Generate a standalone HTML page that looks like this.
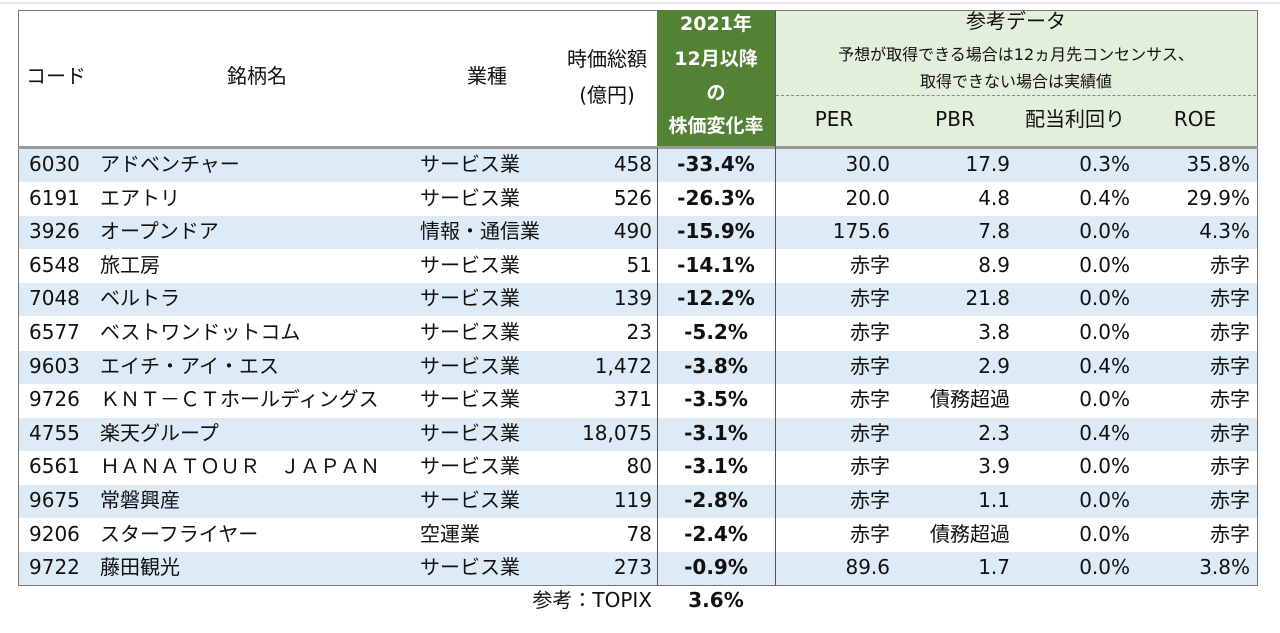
<!DOCTYPE html>
<html><head><meta charset="utf-8"><style>
*{margin:0;padding:0;box-sizing:border-box}
body{width:1280px;height:633px;background:#fff;position:relative;overflow:hidden;font-family:"DejaVu Sans","Noto Sans CJK JP",sans-serif;color:#111}
.a{position:absolute;white-space:nowrap}
.t{font-size:20px;line-height:21px}
.r{text-align:right}
.c{text-align:center}
.b{font-weight:bold}
</style></head><body>
<div class="a" style="left:0;top:2px;width:1280px;height:2px;background:#e3e3e3"></div>
<div class="a" style="left:18px;top:10px;width:1240px;height:576px;border:1px solid #777"></div>
<div class="a" style="left:657px;top:10px;width:118px;height:138px;background:#548235"></div>
<div class="a" style="left:775px;top:11px;width:482px;height:137px;background:#e2efda"></div>
<div class="a" style="left:776px;top:95px;width:480px;border-top:1px dashed #888"></div>
<div class="a" style="left:18px;top:146px;width:1240px;height:3px;background:#999"></div>
<div id="rows"></div>
<div class="a" style="left:657px;top:148px;width:1px;height:437px;background:#555"></div>
<div class="a" style="left:775px;top:10px;width:1px;height:575px;background:#555"></div>

<div class="a t" style="left:26px;top:66px">コード</div>
<div class="a t c" style="left:207px;top:66px;width:100px">銘柄名</div>
<div class="a t c" style="left:447px;top:66px;width:80px">業種</div>
<div class="a t c" style="left:560px;top:49px;width:94px">時価総額</div>
<div class="a t c" style="left:560px;top:85px;width:94px">(億円)</div>
<div class="a c b" style="left:657px;top:13px;width:118px;color:#fff;font-size:19px;line-height:22px">2021年<br><span style="display:block;margin-top:13px">12月以降</span><span style="display:block;margin-top:12px">の</span><span style="display:block;margin-top:11px">株価変化率</span></div>
<div class="a t c" style="left:775px;top:11px;width:482px">参考データ</div>
<div class="a c" style="left:775px;top:41px;width:482px;font-size:16px;line-height:27px">予想が取得できる場合は12ヵ月先コンセンサス、<br>取得できない場合は実績値</div>
<div class="a t c" style="left:794px;top:109px;width:80px">PER</div>
<div class="a t c" style="left:915px;top:109px;width:80px">PBR</div>
<div class="a t c" style="left:1015px;top:109px;width:120px">配当利回り</div>
<div class="a t c" style="left:1155px;top:109px;width:80px">ROE</div>

<div class="a t r" style="left:460px;top:590px;width:192px">参考：TOPIX</div>
<div class="a t c b" style="left:657px;top:590px;width:118px">3.6%</div>

<script>
const d=[["6030","アドベンチャー","サービス業","458","-33.4%","30.0","17.9","0.3%","35.8%"],
["6191","エアトリ","サービス業","526","-26.3%","20.0","4.8","0.4%","29.9%"],
["3926","オープンドア","情報・通信業","490","-15.9%","175.6","7.8","0.0%","4.3%"],
["6548","旅工房","サービス業","51","-14.1%","赤字","8.9","0.0%","赤字"],
["7048","ベルトラ","サービス業","139","-12.2%","赤字","21.8","0.0%","赤字"],
["6577","ベストワンドットコム","サービス業","23","-5.2%","赤字","3.8","0.0%","赤字"],
["9603","エイチ・アイ・エス","サービス業","1,472","-3.8%","赤字","2.9","0.4%","赤字"],
["9726","ＫＮＴ－ＣＴホールディングス","サービス業","371","-3.5%","赤字","債務超過","0.0%","赤字"],
["4755","楽天グループ","サービス業","18,075","-3.1%","赤字","2.3","0.4%","赤字"],
["6561","ＨＡＮＡＴＯＵＲ　ＪＡＰＡＮ","サービス業","80","-3.1%","赤字","3.9","0.0%","赤字"],
["9675","常磐興産","サービス業","119","-2.8%","赤字","1.1","0.0%","赤字"],
["9206","スターフライヤー","空運業","78","-2.4%","赤字","債務超過","0.0%","赤字"],
["9722","藤田観光","サービス業","273","-0.9%","89.6","1.7","0.0%","3.8%"]];
let h="";
d.forEach((r,i)=>{const y=149+i*33.6;
if(i%2==0)h+=`<div class="a" style="left:19px;top:${y}px;width:1238px;height:33px;background:#ddebf7"></div>`;
const ty=y+5;
h+=`<div class="a t" style="left:29px;top:${ty}px">${r[0]}</div>`;
h+=`<div class="a t" style="left:100px;top:${ty}px">${r[1]}</div>`;
h+=`<div class="a t" style="left:420px;top:${ty}px">${r[2]}</div>`;
h+=`<div class="a t r" style="left:540px;top:${ty}px;width:112px">${r[3]}</div>`;
h+=`<div class="a t c b" style="left:657px;top:${ty}px;width:118px">${r[4]}</div>`;
h+=`<div class="a t r" style="left:780px;top:${ty}px;width:110px">${r[5]}</div>`;
h+=`<div class="a t r" style="left:900px;top:${ty}px;width:110px">${r[6]}</div>`;
h+=`<div class="a t r" style="left:1020px;top:${ty}px;width:110px">${r[7]}</div>`;
h+=`<div class="a t r" style="left:1140px;top:${ty}px;width:110px">${r[8]}</div>`;});
document.getElementById("rows").innerHTML=h;
</script>
</body></html>
